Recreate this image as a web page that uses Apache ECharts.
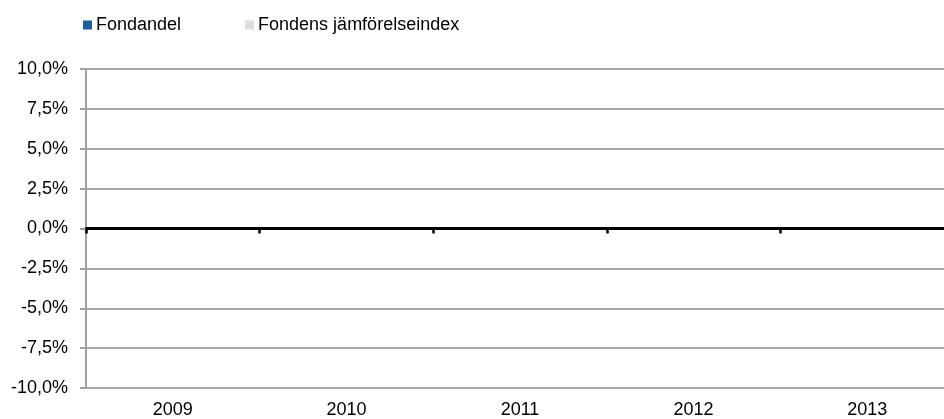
<!DOCTYPE html>
<html><head><meta charset="utf-8">
<script src="https://cdn.jsdelivr.net/npm/echarts@6/dist/echarts.min.js"></script>
<style>html,body{margin:0;padding:0;background:#fff;overflow:hidden}#c{width:954px;height:419px}</style>
</head><body><div id="c"></div>
<script>
const categories = ['2009', '2010', '2011', '2012', '2013'];
const fondandel = [0, 0, 0, 0, 0];
const jamforelseindex = [0, 0, 0, 0, 0];
const seriesNames = ['Fondandel', 'Fondens jämförelseindex'];

const chart = echarts.init(document.getElementById('c'), null, {renderer: 'canvas'});
const font = 'Liberation Sans, Arial, sans-serif';
chart.setOption({
  animation: false,
  textStyle: {fontFamily: font},
  legend: {
    left: 78, top: 11, itemWidth: 9, itemHeight: 9, itemGap: 64, icon: 'rect',
    textStyle: {fontSize: 18, color: '#000', fontFamily: font, padding: [0, 0, 0, -1]},
    data: seriesNames
  },
  grid: {left: 86, right: 0, top: 69, bottom: 31},
  xAxis: [{
    type: 'category', data: categories, boundaryGap: true,
    axisLine: {onZero: true, lineStyle: {color: '#000', width: 3}},
    axisTick: {show: true, length: 5, lineStyle: {color: '#000', width: 2.5}},
    axisLabel: {show: false}
  }, {
    type: 'category', data: categories, position: 'bottom', offset: 0,
    axisLine: {show: false, onZero: false}, axisTick: {show: false},
    axisLabel: {fontSize: 18, color: '#000', fontFamily: font, margin: 13}
  }],
  yAxis: {
    type: 'value', min: -0.1, max: 0.1, interval: 0.025,
    axisLine: {show: true, lineStyle: {color: '#a0a0a0', width: 2}},
    axisTick: {show: true, length: 6, lineStyle: {color: '#a0a0a0', width: 2}},
    splitLine: {show: true, lineStyle: {color: '#a8a8a8', width: 2}},
    axisLabel: {fontSize: 18, color: '#000', fontFamily: font, margin: 18, padding: [6, 0, 0, 0],
      formatter: v => (v * 100).toFixed(1).replace('.', ',') + '%'}
  },
  series: [
    {name: seriesNames[0], type: 'bar', data: fondandel, itemStyle: {color: '#1f5f99'}, barGap: '0%'},
    {name: seriesNames[1], type: 'bar', data: jamforelseindex, itemStyle: {color: '#dddddd'}}
  ]
});
</script></body></html>
